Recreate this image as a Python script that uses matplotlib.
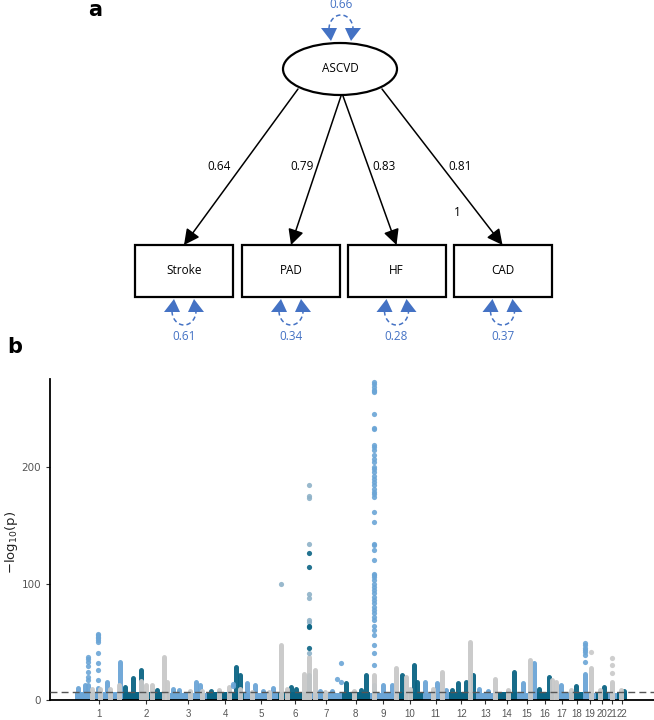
import matplotlib
matplotlib.use("Agg")
import matplotlib.pyplot as plt
from matplotlib.patches import Ellipse, Rectangle, Polygon, FancyArrowPatch
import numpy as np

# ---- panel a: structural equation model ----
latent = "ASCVD"
latent_var = "0.66"
indicators = ["Stroke", "PAD", "HF", "CAD"]
loadings = ["0.64", "0.79", "0.83", "0.81"]
resid_var = ["0.61", "0.34", "0.28", "0.37"]

# ---- panel b: Manhattan plot ----
chroms = [str(i) for i in range(1, 23)]
chrom_len = [249, 243, 198, 191, 181, 171, 159, 146, 141, 136, 135,
             134, 115, 107, 103, 90, 81, 78, 59, 63, 48, 51]  # Mb
chrom_base = [6.5, 6.5, 6, 6.5, 6, 6.5, 6, 6.5, 6, 6.5, 6,
              6.5, 6, 6.5, 6, 6.5, 6, 6.5, 6, 6.5, 6, 6.5]

# dense loci drawn as solid columns: (chromosome, position Mb, top -log10 p)
chrom_cols = [(1, 15, 11.4), (1, 54, 14), (1, 70, 14), (1, 122, 12), (1, 167, 17), (1, 235, 34),
              (2, 12, 13), (2, 55, 20), (2, 95, 27), (2, 180, 10),
              (3, 20, 11), (3, 52, 10), (3, 139, 17), (3, 161, 14),
              (4, 20, 9), (4, 153, 30), (4, 171, 23),
              (5, 15, 15.7), (5, 58, 14), (5, 100, 9), (5, 152, 12),
              (6, 68, 13), (6, 90, 11), (6, 160, 23),
              (7, 45, 9), (7, 110, 9),
              (8, 22, 15.7), (8, 100, 10), (8, 126, 23),
              (9, 24, 14), (9, 72, 14), (9, 115, 14),
              (10, 28, 23), (10, 89, 31.5), (10, 104, 17),
              (11, 11, 17), (11, 76, 15.7), (11, 120, 10),
              (12, 17, 10), (12, 50, 15.7), (12, 89, 17), (12, 126, 23),
              (13, 24, 11), (13, 70, 9), (14, 93, 25.8),
              (15, 30, 15.7), (15, 89, 33),
              (16, 15, 11), (16, 65, 21.5),
              (17, 39, 14), (18, 35, 13.7), (19, 4, 24), (20, 43, 13), (22, 40, 9)]
grey_cols = [(1, 87, 11), (1, 130, 11), (1, 185, 11), (1, 232, 14),
             (2, 95, 18), (2, 121, 14), (2, 155, 14), (2, 214, 38.6), (2, 229, 17),
             (3, 107, 9), (3, 172, 9),
             (4, 60, 10), (4, 114, 13), (4, 169, 11),
             (5, 43, 8.5), (5, 130, 8.5),
             (6, 14, 48.6), (6, 47, 11), (6, 134, 24), (6, 162, 38.6),
             (7, 20, 27), (7, 72, 8.5), (8, 65, 9),
             (9, 24, 23), (9, 137, 28.6),
             (10, 50, 21), (10, 72, 11),
             (11, 54, 11), (11, 102, 25.8),
             (12, 111, 51.5), (13, 107, 19.5), (14, 61, 10),
             (15, 67, 35.8), (16, 80, 18.6), (17, 11, 17), (18, 11, 10),
             (19, 37, 28.6), (20, 22, 10), (21, 24, 17), (22, 20, 10)]

# separated points: (chromosome, position Mb, values, colour key)
dot_stacks = [
    (1, 70, [37, 35, 33, 29, 24, 19.5, 17], "c"),
    (1, 122, [57, 56, 54.5, 53, 51.5, 50, 40, 31.5, 26, 17], "c"),
    (4, 136, [14, 12], "lb"),
    (6, 14, [99.6], "gb"),
    (6, 160, [184.5, 175, 174, 134.5, 91.5, 87.3, 69, 67, 40], "gb"),
    (6, 160, [126.5, 114, 63.5, 62.4, 45], "c"),
    (7, 133, [17.7], "c"),
    (7, 154, [32, 15.7], "c"),
    (9, 24, [273.2, 271.8, 269, 266.7, 265.5, 264.7, 246, 234, 233.2, 219, 217.5,
             214.6, 210.3, 207.4, 204.6, 200.3, 198.9, 196, 193, 190.3, 187.4, 184.5,
             181.7, 178.8, 176.8, 174.5, 161.7, 153, 134.5, 133, 128.8, 120.7, 108.7,
             107.3, 105.9, 103, 100, 97.3, 94.4, 91.6, 88.7, 85.8, 83, 80.1, 77.3,
             74.4, 71.5, 68.7, 63.5, 60, 55.8, 47.2, 40, 30], "c"),
    (19, 4, [48.6, 47, 45, 43, 41, 38.6, 33], "c"),
    (19, 37, [41.5], "g"),
    (21, 24, [35.8, 30, 23], "g"),
]
sig_line = 7.3

light = "#6BA5D6"
dark = "#0B6484"
grey = "#C9C9C9"
greyblue = "#8EB2C8"
sem_blue = "#4472C4"

fig = plt.figure(figsize=(6.54, 7.2), dpi=100)

# ================= panel a =================
axd = fig.add_axes([0, 1 - 340 / 720, 1, 340 / 720])
axd.set_xlim(0, 654)
axd.set_ylim(340, 0)
axd.axis("off")
fnt = "Open Sans"
fs = 8.5

axd.text(95, 10, "a", fontsize=15, fontweight="bold", ha="center", va="center",
         family="DejaVu Sans")

ex, ey, ew, eh = 340, 69, 114, 52
axd.add_patch(Ellipse((ex, ey), ew, eh, fill=False, lw=1.6, ec="black"))
axd.text(ex, ey, latent, ha="center", va="center", fontsize=fs, family=fnt)

box_cx = [184, 291, 396.5, 502.5]
box_w, box_h, box_top = 98, 52, 245
arrow_start = [(298, 89), (341, 96), (343, 96), (382, 89)]
label_pos = [(219, 166), (302, 166), (384, 166), (460, 166)]

for i, name in enumerate(indicators):
    cx = box_cx[i]
    axd.add_patch(Rectangle((cx - box_w / 2, box_top), box_w, box_h, fill=False,
                            lw=1.6, ec="black"))
    axd.text(cx, box_top + box_h / 2, name, ha="center", va="center",
             fontsize=fs, family=fnt)
    arr = FancyArrowPatch(arrow_start[i], (cx, box_top), shrinkA=0, shrinkB=0,
                          arrowstyle="-|>,head_length=0.75,head_width=0.38",
                          mutation_scale=12.5, lw=1.1, color="black")
    axd.add_patch(arr)
    axd.text(label_pos[i][0], label_pos[i][1], loadings[i], ha="center",
             va="center", fontsize=fs, family=fnt)
axd.text(457, 212, "1", ha="center", va="center", fontsize=fs, family=fnt)


def variance_loop(cx, y0, direction, label, ly):
    # direction=+1 loop below (boxes), -1 loop above (latent)
    t = np.linspace(0, np.pi, 40)
    xs = cx - 12 * np.cos(t)
    ys = y0 + 12 * direction + 14 * direction * np.sin(t)
    axd.plot(xs, ys, color=sem_blue, lw=1.1, ls=(0, (3, 2)))
    for side in (-1, 1):
        ax_ = cx + side * 12
        tri = [(ax_ - side * 2, y0), (ax_ - 8, y0 + 13 * direction),
               (ax_ + 8, y0 + 13 * direction)]
        axd.add_patch(Polygon(tri, closed=True, color=sem_blue, lw=0))
    axd.text(cx, ly, label, ha="center", va="center", fontsize=fs,
             color=sem_blue, family=fnt)


variance_loop(341, 41, -1, latent_var, 5)
for i in range(4):
    variance_loop(box_cx[i], 299, 1, resid_var[i], 336)

# ================= panel b =================
fig.text(15 / 654, 1 - 347 / 720, "b", fontsize=15, fontweight="bold",
         ha="center", va="center")

ax = fig.add_axes([50 / 654, 20 / 720, 604 / 654, 321 / 720])
starts = np.concatenate([[0], np.cumsum(chrom_len)[:-1]])
ccol = [light if i % 2 == 0 else dark for i in range(22)]

ax.bar(starts, chrom_base, width=chrom_len, align="edge", color=ccol, lw=0, zorder=1)

for c, pos, top in chrom_cols:
    ax.vlines(starts[c - 1] + pos, 0, top - 1.5, colors=ccol[c - 1], lw=3.6,
              capstyle="round", alpha=0.95, zorder=2)
for c, pos, top in grey_cols:
    ax.vlines(starts[c - 1] + pos, 0, top - 1.5, colors=grey, lw=3.6,
              capstyle="round", alpha=0.95, zorder=3)

keymap = {"g": grey, "gb": greyblue, "lb": light}
for c, pos, vals, key in dot_stacks:
    col = ccol[c - 1] if key == "c" else keymap[key]
    ax.scatter(np.full(len(vals), starts[c - 1] + pos), vals, s=14, color=col,
               lw=0, alpha=0.9, zorder=4)

ax.axhline(sig_line, color="#555555", lw=1.0, ls=(0, (5, 3)), zorder=5)

ax.set_xlim(-130, 3022)
ax.set_ylim(0, 276)
ax.set_yticks([0, 100, 200])
ax.set_xticks(starts + np.array(chrom_len) / 2)
ax.set_xticklabels(chroms)
ax.tick_params(axis="both", length=3, width=0.8, colors="#333333",
               labelcolor="#555555", labelsize=7.5)
for lab in ax.get_xticklabels():
    lab.set_fontsize(7)
    lab.set_fontstretch("condensed")
    lab.set_family(["Liberation Sans Narrow", "Liberation Sans"])
for s in ("top", "right"):
    ax.spines[s].set_visible(False)
for s in ("left", "bottom"):
    ax.spines[s].set_linewidth(1.3)
fig.text(12 / 654, 1 - 542 / 720, r"$-\mathregular{log_{10}(p)}$", rotation=90,
         ha="center", va="center", fontsize=9.5, color="#222222")

fig.savefig("out.png", dpi=100)
